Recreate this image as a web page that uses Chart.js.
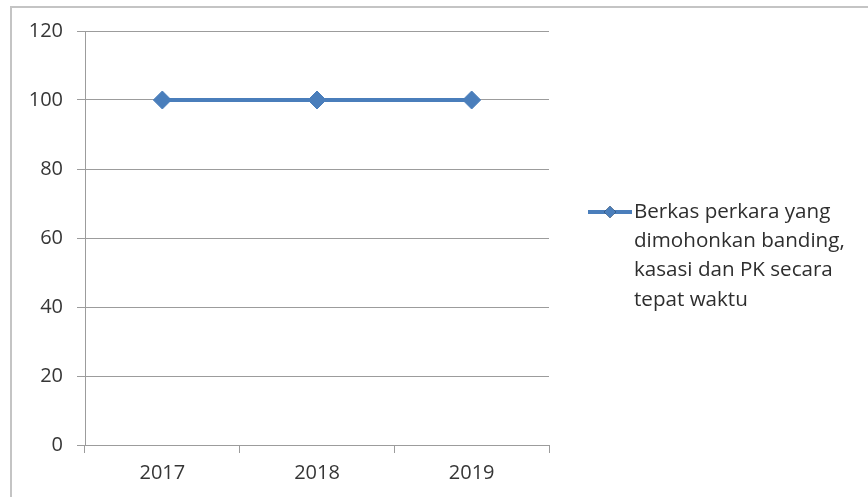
<!DOCTYPE html>
<html>
<head>
<meta charset="utf-8">
<script src="https://cdn.jsdelivr.net/npm/chart.js@4/dist/chart.umd.min.js"></script>
<style>
  html, body { margin: 0; padding: 0; background: #fff; overflow: hidden; }
  #wrap { position: relative; width: 868px; height: 497px; }
  #frame { position: absolute; left: 10px; top: 6px; width: 900px; height: 600px;
           border-left: 2px solid #c4c4c4; border-top: 2px solid #c4c4c4; box-sizing: border-box; }
  canvas { position: absolute; left: 0; top: 0; }
</style>
</head>
<body>
<div id="wrap">
  <div id="frame"></div>
  <canvas id="c" width="868" height="497"></canvas>
</div>
<script>
const categories = ['2017', '2018', '2019'];
const seriesValues = [100, 100, 100];
const seriesLabel = ['Berkas perkara yang', 'dimohonkan banding,', 'kasasi dan PK secara', 'tepat waktu'];
const yTicks = [0, 20, 40, 60, 80, 100, 120];

const FONT = "'Open Sans', 'Liberation Sans', sans-serif";
const LINE_COLOR = '#4a7ebb';
const GRID = '#9c9c9c';
const TEXT = '#363636';

const legendPlugin = {
  id: 'sideLegend',
  afterDraw(chart) {
    const ctx = chart.ctx;
    const ds = chart.data.datasets[0];
    const x0 = 588, x1 = 632, y0 = 212, lh = 29.3;
    ctx.save();
    ctx.strokeStyle = LINE_COLOR;
    ctx.lineWidth = 4;
    ctx.beginPath(); ctx.moveTo(x0, y0); ctx.lineTo(x1, y0); ctx.stroke();
    Chart.helpers.drawPoint(ctx, { pointStyle: 'rectRot', radius: 6, rotation: 0, borderWidth: 0 }, (x0 + x1) / 2, y0);
    ctx.fillStyle = LINE_COLOR; ctx.fill();
    ctx.fillStyle = '#2e2e2e';
    ctx.font = '20.6px ' + FONT;
    ctx.textBaseline = 'middle';
    ctx.textAlign = 'left';
    ds.label.forEach((t, i) => ctx.fillText(t, 634, y0 + i * lh));
    ctx.restore();
  }
};

new Chart(document.getElementById('c'), {
  type: 'line',
  data: {
    labels: categories,
    datasets: [{
      label: seriesLabel,
      data: seriesValues,
      borderColor: LINE_COLOR,
      backgroundColor: LINE_COLOR,
      borderWidth: 4,
      pointStyle: 'rectRot',
      pointRadius: 9,
      pointHoverRadius: 9,
      pointBorderWidth: 1,
      pointBorderColor: LINE_COLOR,
      tension: 0
    }]
  },
  options: {
    responsive: false,
    animation: false,
    events: [],
    layout: { padding: { left: 0, right: 319, top: 31, bottom: 0 } },
    plugins: { legend: { display: false }, tooltip: { enabled: false } },
    scales: {
      x: {
        type: 'category',
        offset: true,
        grid: { offset: true, drawOnChartArea: false, drawTicks: true, tickLength: 8, color: GRID, lineWidth: 1 },
        border: { display: true, color: GRID, width: 1 },
        ticks: { color: TEXT, font: { family: FONT, size: 20 }, padding: 8, maxRotation: 0 },
        afterFit(s) { s.height = 52; }
      },
      y: {
        min: 0, max: 120,
        afterBuildTicks(s) { s.ticks = yTicks.map(v => ({ value: v })); },
        grid: { drawOnChartArea: true, drawTicks: true, tickLength: 8, color: GRID, lineWidth: 1 },
        border: { display: true, color: GRID, width: 1 },
        ticks: { color: TEXT, font: { family: FONT, size: 20 }, padding: 14 },
        afterFit(s) { s.width = 85; }
      }
    }
  },
  plugins: [legendPlugin]
});
</script>
</body>
</html>
